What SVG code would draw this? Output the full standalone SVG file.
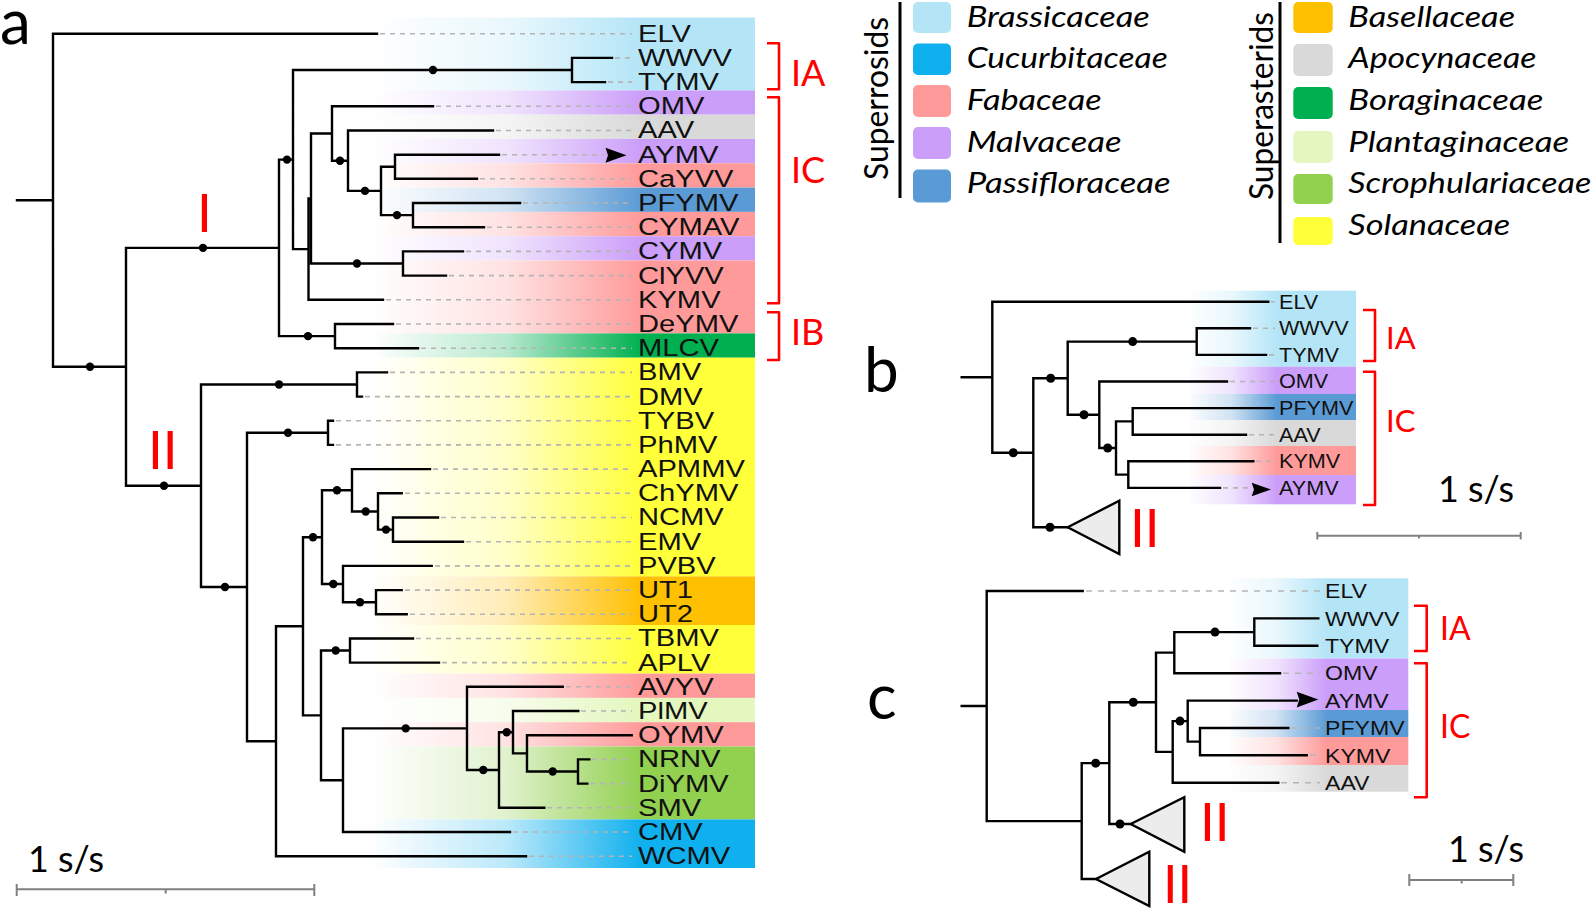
<svg xmlns="http://www.w3.org/2000/svg" width="1594" height="910" viewBox="0 0 1594 910">
<style>
.tr{fill:none;stroke:#000;stroke-width:2.4;stroke-linecap:square;stroke-linejoin:miter}
.ds{fill:none;stroke:#b4b4b4;stroke-width:1.6;stroke-dasharray:5 5}
.dsc{fill:none;stroke:#b4b4b4;stroke-width:1.6;stroke-dasharray:6 6}
.dot{fill:#000}
.br{fill:none;stroke:#f00;stroke-width:2.6;stroke-linejoin:round}
.rl{font-family:Lato,"Open Sans",sans-serif;fill:#f00}
.tip{font-family:"Liberation Sans",Arial,sans-serif;fill:#111}
.lg{font-family:Lato,"Open Sans",sans-serif;font-style:italic;font-size:28px;fill:#000}
.cal{font-family:Lato,"Open Sans",sans-serif;fill:#000}
.sb{fill:none;stroke:#808080;stroke-width:2}
.tri{fill:#ececec;stroke:#000;stroke-width:2.4;stroke-linejoin:miter}
.bra{fill:#b4e5f7}.cuc{fill:#0fb0ee}.fab{fill:#ff9a9a}.mal{fill:#cb9ef9}.pas{fill:#5b9bd5}
.bas{fill:#ffc000}.apo{fill:#d9d9d9}.bor{fill:#00b050}.pla{fill:#e3f7be}.scr{fill:#92d050}.sol{fill:#ffff3a}
</style>
<defs>
<linearGradient id="fade" x1="0" y1="0" x2="1" y2="0">
<stop offset="0" stop-color="#fff" stop-opacity="1"/>
<stop offset="0.5" stop-color="#fff" stop-opacity="0.72"/>
<stop offset="1" stop-color="#fff" stop-opacity="0"/>
</linearGradient>
<path id="arr" d="M0,-7.5 L21,0 L0,7.5 L2.5,0 Z" fill="#000"/>
</defs>
<rect width="1594" height="910" fill="#fff"/>

<!-- Panel a bands -->
<g id="a-bands">
<rect class="bra" x="375" y="17.5" width="380" height="72.9"/>
<rect class="mal" x="375" y="90.4" width="380" height="24.3"/>
<rect class="apo" x="375" y="114.7" width="380" height="24.3"/>
<rect class="mal" x="375" y="139" width="380" height="24.3"/>
<rect class="fab" x="375" y="163.3" width="380" height="24.3"/>
<rect class="pas" x="375" y="187.6" width="380" height="24.3"/>
<rect class="fab" x="375" y="211.9" width="380" height="24.3"/>
<rect class="mal" x="375" y="236.2" width="380" height="24.3"/>
<rect class="fab" x="375" y="260.5" width="380" height="72.9"/>
<rect class="bor" x="375" y="333.4" width="380" height="24.3"/>
<rect class="sol" x="375" y="357.7" width="380" height="218.7"/>
<rect class="bas" x="375" y="576.4" width="380" height="48.6"/>
<rect class="sol" x="375" y="625" width="380" height="48.6"/>
<rect class="fab" x="375" y="673.6" width="380" height="24.3"/>
<rect class="pla" x="375" y="697.9" width="380" height="24.3"/>
<rect class="fab" x="375" y="722.2" width="380" height="24.3"/>
<rect class="scr" x="375" y="746.5" width="380" height="72.9"/>
<rect class="cuc" x="375" y="819.4" width="380" height="48.6"/>
<rect x="370" y="15" width="272" height="856" fill="url(#fade)"/>
</g>

<!-- Panel b bands -->
<g id="b-bands">
<rect class="bra" x="1190" y="290.7" width="166" height="76"/>
<rect class="mal" x="1190" y="366.7" width="166" height="27.3"/>
<rect class="pas" x="1190" y="394" width="166" height="26"/>
<rect class="apo" x="1190" y="420" width="166" height="26"/>
<rect class="fab" x="1190" y="446" width="166" height="29"/>
<rect class="mal" x="1190" y="475" width="166" height="29.3"/>
<rect x="1185" y="288" width="92" height="220" fill="url(#fade)"/>
</g>

<!-- Panel c bands -->
<g id="c-bands">
<rect class="bra" x="1230" y="578.3" width="178.3" height="80.2"/>
<rect class="mal" x="1230" y="658.5" width="178.3" height="51.5"/>
<rect class="pas" x="1230" y="710" width="178.3" height="27"/>
<rect class="fab" x="1230" y="737" width="178.3" height="28"/>
<rect class="apo" x="1230" y="765" width="178.3" height="26.7"/>
<rect x="1225" y="575" width="102" height="220" fill="url(#fade)"/>
</g>

<!-- Panel a connectors -->
<g id="a-connectors">
<path class="ds" d="M380,33.7H632 M615,57.9H632 M608,82.1H632 M436,106.3H632 M496,130.5H632 M502,154.7H604 M480,178.8H632 M523,203H632 M487,227.2H632 M466,251.4H632 M449,275.6H632 M386,299.8H632 M396,324H632 M421,348.2H632 M390,372.4H632 M365,396.6H632 M336,420.7H632 M336,444.9H632 M433,469.1H632 M405,493.3H632 M441,517.5H632 M466,541.7H632 M435,565.9H632 M405,590.1H632 M410,614.3H632 M416,638.5H632 M442,662.6H632 M566,686.8H632 M581,711H632 M592,759.4H632 M590,783.6H632 M547,807.8H632 M513,832H632 M529,856.2H632"/>
<path class="tr" d="M17,200.25H53
M377,33.7H53V366.8H126
M279,247.85H126V485.75H201
M293,159.6H279V336.1H335
M572,70H293V249.15H308.5
M612,57.9H572V82.1H605
M311,198.5H308.5V299.8H383
M332,133.5H311V263.5H403
M433,106.3H332V160.7H348
M493,130.5H348V190.9H381
M395,166.75H381V215.1H413
M499,154.7H395V178.8H477
M520,203H413V227.2H484
M463,251.4H403V275.6H446
M393,324H335V348.2H418
M357,384.5H201V587H247
M387,372.4H357V396.6H362
M328,432.8H247V741.25H276
M333,420.7H328V444.9H333
M303,626.3H276V856.2H526
M322,537.2H303V715.4H321
M352,490.3H322V584.05H343
M430,469.1H352V511.45H378
M401.7,493.3H378V529.6H393
M438,517.5H393V541.7H463
M431.7,565.9H343V602.2H376
M401.7,590.1H376V614.3H406.7
M350,650.55H321V780.2H343
M413,638.5H350V662.6H439
M467,728.4H343V832H510
M562.7,686.8H467V770H499
M513,732.2H499V807.8H544.3
M578.3,711H513V753.35H527
M631.7,735.2H527V771.5H578
M589.3,759.4H578V783.6H587.3"/>
<g class="dot">
<circle cx="90" cy="366.8" r="4.2"/><circle cx="203" cy="247.85" r="4.2"/><circle cx="287" cy="159.6" r="4.2"/>
<circle cx="433" cy="70" r="4.2"/><circle cx="340" cy="160.7" r="4.2"/><circle cx="365" cy="190.9" r="4.2"/>
<circle cx="397" cy="215.1" r="4.2"/><circle cx="357" cy="263.5" r="4.2"/><circle cx="308" cy="336.1" r="4.2"/>
<circle cx="164" cy="485.75" r="4.2"/><circle cx="279" cy="384.5" r="4.2"/><circle cx="288" cy="432.8" r="4.2"/>
<circle cx="225" cy="587" r="4.2"/><circle cx="313" cy="537.2" r="4.2"/><circle cx="337" cy="490.3" r="4.2"/>
<circle cx="365.7" cy="511.45" r="4.2"/><circle cx="386" cy="529.6" r="4.2"/><circle cx="333.3" cy="584.05" r="4.2"/>
<circle cx="360" cy="602.2" r="4.2"/><circle cx="335.7" cy="650.55" r="4.2"/><circle cx="405.7" cy="728.4" r="4.2"/>
<circle cx="483.3" cy="770" r="4.2"/><circle cx="506.7" cy="732.2" r="4.2"/><circle cx="552.7" cy="771.5" r="4.2"/>
</g>
<use href="#arr" transform="translate(605.5,155.3)"/>
</g>

<!-- Panel a labels -->
<g id="a-labels" class="tip" font-size="24.5" transform="translate(638,0) scale(1.19,1)">
<text id="a-ELV" x="0" y="41.7">ELV</text>
<text id="a-WWVV" x="0" y="65.9">WWVV</text>
<text id="a-TYMV" x="0" y="90.1">TYMV</text>
<text id="a-OMV" x="0" y="114.3">OMV</text>
<text id="a-AAV" x="0" y="138.5">AAV</text>
<text id="a-AYMV" x="0" y="162.7">AYMV</text>
<text id="a-CaYVV" x="0" y="186.8">CaYVV</text>
<text id="a-PFYMV" x="0" y="211">PFYMV</text>
<text id="a-CYMAV" x="0" y="235.2">CYMAV</text>
<text id="a-CYMV" x="0" y="259.4">CYMV</text>
<text id="a-ClYVV" x="0" y="283.6">ClYVV</text>
<text id="a-KYMV" x="0" y="307.8">KYMV</text>
<text id="a-DeYMV" x="0" y="332">DeYMV</text>
<text id="a-MLCV" x="0" y="356.2">MLCV</text>
<text id="a-BMV" x="0" y="380.4">BMV</text>
<text id="a-DMV" x="0" y="404.6">DMV</text>
<text id="a-TYBV" x="0" y="428.7">TYBV</text>
<text id="a-PhMV" x="0" y="452.9">PhMV</text>
<text id="a-APMMV" x="0" y="477.1">APMMV</text>
<text id="a-ChYMV" x="0" y="501.3">ChYMV</text>
<text id="a-NCMV" x="0" y="525.5">NCMV</text>
<text id="a-EMV" x="0" y="549.7">EMV</text>
<text id="a-PVBV" x="0" y="573.9">PVBV</text>
<text id="a-UT1" x="0" y="598.1">UT1</text>
<text id="a-UT2" x="0" y="622.3">UT2</text>
<text id="a-TBMV" x="0" y="646.5">TBMV</text>
<text id="a-APLV" x="0" y="670.6">APLV</text>
<text id="a-AVYV" x="0" y="694.8">AVYV</text>
<text id="a-PlMV" x="0" y="719">PlMV</text>
<text id="a-OYMV" x="0" y="743.2">OYMV</text>
<text id="a-NRNV" x="0" y="767.4">NRNV</text>
<text id="a-DiYMV" x="0" y="791.6">DiYMV</text>
<text id="a-SMV" x="0" y="815.8">SMV</text>
<text id="a-CMV" x="0" y="840">CMV</text>
<text id="a-WCMV" x="0" y="864.2">WCMV</text>
</g>

<!-- Panel a clade marks -->
<g id="a-clades">
<path class="br" d="M767,43.3H779V89.3H767 M767,97.3H779V303.3H767 M767,312.3H779V360H767"/>
<text class="rl" x="791" y="86" font-size="36">IA</text>
<text class="rl" x="791" y="183" font-size="36">IC</text>
<text class="rl" x="791" y="345" font-size="36">IB</text>
<text class="rl" x="197" y="232" font-size="53">I</text>
<text class="rl" x="148" y="469.3" font-size="53">II</text>
</g>

<g id="a-scale">
<path class="sb" d="M16.7,889.3H314.3 M16.7,884V896 M314.3,884V896 M165.7,889.3V893.5"/>
<text class="cal" x="28" y="871.7" font-size="37" textLength="76" lengthAdjust="spacingAndGlyphs">1 s/s</text>
</g>
<text id="label-a" class="cal" x="0" y="44.3" font-size="62">a</text>

<!-- Legend -->
<g id="legend-rosids">
<path d="M900,2V198" stroke="#000" stroke-width="3"/>
<text class="cal" font-size="28" text-anchor="middle" textLength="163" lengthAdjust="spacingAndGlyphs" transform="translate(888,98.5) scale(1.2,1) rotate(-90)">Superrosids</text>
<rect class="bra" x="913" y="2" width="38" height="31" rx="5"/>
<rect class="cuc" x="913" y="43.5" width="38" height="31.5" rx="5"/>
<rect class="fab" x="913" y="85" width="38" height="32" rx="5"/>
<rect class="mal" x="913" y="127" width="38" height="32" rx="5"/>
<rect class="pas" x="913" y="169.5" width="38" height="33" rx="5"/>
<g transform="translate(966.7,0) scale(1.2,1)">
<text class="lg" x="0" y="26.7" textLength="152.5" lengthAdjust="spacingAndGlyphs">Brassicaceae</text>
<text class="lg" x="0" y="68.3" textLength="167.5" lengthAdjust="spacingAndGlyphs">Cucurbitaceae</text>
<text class="lg" x="0" y="110" textLength="112.5" lengthAdjust="spacingAndGlyphs">Fabaceae</text>
<text class="lg" x="0" y="151.7" textLength="129" lengthAdjust="spacingAndGlyphs">Malvaceae</text>
<text class="lg" x="0" y="193.3" textLength="170" lengthAdjust="spacingAndGlyphs">Passifloraceae</text>
</g>
</g>
<g id="legend-asterids">
<path d="M1280,2V243" stroke="#000" stroke-width="3"/>
<text class="cal" font-size="28" text-anchor="middle" textLength="188" lengthAdjust="spacingAndGlyphs" transform="translate(1273,106) scale(1.2,1) rotate(-90)">Superasterids</text>
<rect class="bas" x="1293.3" y="2" width="39.4" height="31" rx="5"/>
<rect class="apo" x="1293.3" y="44" width="39.4" height="32" rx="5"/>
<rect class="bor" x="1293.3" y="87" width="39.4" height="32" rx="5"/>
<rect class="pla" x="1293.3" y="131" width="39.4" height="32" rx="5"/>
<rect class="scr" x="1293.3" y="174" width="39.4" height="30" rx="5"/>
<rect class="sol" x="1293.3" y="217" width="39.4" height="28" rx="5"/>
<g transform="translate(1348.3,0) scale(1.2,1)">
<text class="lg" x="0" y="26.7" textLength="139" lengthAdjust="spacingAndGlyphs">Basellaceae</text>
<text class="lg" x="0" y="68.3" textLength="156.7" lengthAdjust="spacingAndGlyphs">Apocynaceae</text>
<text class="lg" x="0" y="110" textLength="162.5" lengthAdjust="spacingAndGlyphs">Boraginaceae</text>
<text class="lg" x="0" y="151.7" textLength="184" lengthAdjust="spacingAndGlyphs">Plantaginaceae</text>
<text class="lg" x="0" y="193.3" textLength="202.5" lengthAdjust="spacingAndGlyphs">Scrophulariaceae</text>
<text class="lg" x="0" y="235" textLength="135" lengthAdjust="spacingAndGlyphs">Solanaceae</text>
</g>
</g>

<!-- Panel b -->
<text id="label-b" class="cal" x="864" y="391.7" font-size="62">b</text>
<g id="b-connectors">
<path class="ds" d="M1271,301.7H1275 M1253,328.3H1275 M1269,354.9H1275 M1230,381.5H1275 M1249,434.7H1275 M1256,461.3H1275 M1223,487.9H1250"/>
<path class="tr" d="M961.7,377.2H992.3
M1268.3,301.7H992.3V452.75H1033.3
M1067.7,378.2H1033.3V527.3H1067.7
M1196.7,341.6H1067.7V414.75H1099.3
M1250,328.3H1196.7V354.9H1266
M1227,381.5H1099.3V448H1116
M1132.7,421.4H1116V474.6H1128.3
M1273.3,408.1H1132.7V434.7H1246
M1253.3,461.3H1128.3V487.9H1220"/>
<polygon class="tri" points="1067.7,527.3 1119.3,500.7 1119.3,554"/>
<g class="dot">
<circle cx="1013.3" cy="452.75" r="4.5"/><circle cx="1050.7" cy="378.2" r="4.5"/><circle cx="1132.7" cy="341.6" r="4.5"/>
<circle cx="1084" cy="414.75" r="4.5"/><circle cx="1107.7" cy="448" r="4.5"/><circle cx="1050" cy="527.3" r="4.5"/>
</g>
<use href="#arr" transform="translate(1251.7,489.5) scale(0.92,0.9)"/>
</g>
<g id="b-labels" class="tip" font-size="20" transform="translate(1279,0) scale(1.08,1)">
<text x="0" y="308.7">ELV</text>
<text x="0" y="335.3">WWVV</text>
<text x="0" y="361.9">TYMV</text>
<text x="0" y="388.5">OMV</text>
<text x="0" y="415.1">PFYMV</text>
<text x="0" y="441.7">AAV</text>
<text x="0" y="468.3">KYMV</text>
<text x="0" y="494.9">AYMV</text>
</g>
<g id="b-clades">
<path class="br" d="M1363,310H1375V361H1363 M1363,371.7H1375V505H1363"/>
<text class="rl" x="1386" y="349" font-size="31">IA</text>
<text class="rl" x="1386" y="432.3" font-size="31">IC</text>
<text class="rl" x="1130" y="546.7" font-size="53">II</text>
</g>
<g id="b-scale">
<path class="sb" d="M1317.3,535.7H1520.7 M1317.3,532V539.5 M1520.7,532V539.5 M1419,535.7V538.5"/>
<text class="cal" x="1438" y="501.7" font-size="37" textLength="76" lengthAdjust="spacingAndGlyphs">1 s/s</text>
</g>

<!-- Panel c -->
<text id="label-c" class="cal" x="867" y="719.3" font-size="62">c</text>
<g id="c-connectors">
<path class="dsc" d="M1086,591H1320 M1283,673.2H1320 M1291,728H1320 M1310,755.3H1320 M1281,782.7H1320"/>
<path class="tr" d="M961.7,706H986.7
M1082.7,591H986.7V821.1H1081.7
M1109.3,763.15H1081.7V879H1096
M1156,702.3H1109.3V824H1130.7
M1174.3,652.65H1156V751.9H1172.7
M1254.3,632.1H1174.3V673.2H1280
M1318.3,618.4H1254.3V645.8H1317.3
M1187.7,721.1H1172.7V782.7H1278.3
M1296.7,700.6H1187.7V741.65H1200
M1288.3,728H1200V755.3H1306.7"/>
<polygon class="tri" points="1130.7,824 1184.3,797.3 1184.3,851.7"/>
<polygon class="tri" points="1096,879 1149.3,851.7 1149.3,906"/>
<g class="dot">
<circle cx="1095.7" cy="763.15" r="4.5"/><circle cx="1133.3" cy="702.3" r="4.5"/><circle cx="1215" cy="632.1" r="4.5"/>
<circle cx="1180" cy="721.1" r="4.5"/><circle cx="1120" cy="824" r="4.5"/>
</g>
<use href="#arr" transform="translate(1296.7,699.5) scale(1.03,1.05)"/>
</g>
<g id="c-labels" class="tip" font-size="21" transform="translate(1325,0) scale(1.1,1)">
<text x="0" y="598.3">ELV</text>
<text x="0" y="625.7">WWVV</text>
<text x="0" y="653.1">TYMV</text>
<text x="0" y="680.5">OMV</text>
<text x="0" y="707.9">AYMV</text>
<text x="0" y="735.3">PFYMV</text>
<text x="0" y="762.6">KYMV</text>
<text x="0" y="790">AAV</text>
</g>
<g id="c-clades">
<path class="br" d="M1414,605.7H1426.7V651H1414 M1414,663.3H1426.7V797.3H1414"/>
<text class="rl" x="1440" y="640" font-size="32">IA</text>
<text class="rl" x="1440" y="737.7" font-size="32">IC</text>
<text class="rl" x="1200" y="840.7" font-size="53">II</text>
<text class="rl" x="1163" y="903" font-size="52">II</text>
</g>
<g id="c-scale">
<path class="sb" d="M1409.3,880H1513.3 M1409.3,874V886 M1513.3,874V886 M1461.7,880V883.5"/>
<text class="cal" x="1448" y="861.7" font-size="37" textLength="76" lengthAdjust="spacingAndGlyphs">1 s/s</text>
</g>
</svg>
